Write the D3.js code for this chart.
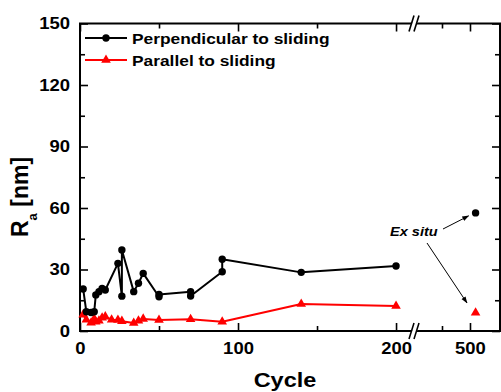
<!DOCTYPE html>
<html><head><meta charset="utf-8">
<script src="https://cdn.jsdelivr.net/npm/d3@7"></script>
<style>
html,body{margin:0;padding:0;background:#fff;}
svg{display:block;}
text{font-family:"Liberation Sans",Arial,sans-serif;font-weight:bold;fill:#000;}
.wide-c{transform-box:fill-box;transform-origin:center;transform:scaleX(1.12);}
.wide-r{transform-box:fill-box;transform-origin:right center;transform:scaleX(1.12);}
.wide-l{transform-box:fill-box;transform-origin:left center;transform:scaleX(1.12);}
</style></head><body>
<svg id="chart" width="501" height="392"></svg>
<script>
// Roughness Ra (nm) versus sliding cycle
const perpCycles = [2, 4, 7, 9, 10, 12, 14, 16, 24, 26.5, 26.5, 34, 37, 40, 50, 50, 70, 70, 90, 90, 140, 200];
const perpRa     = [20.5, 9.4, 9, 9.4, 17.6, 19.2, 20.8, 20, 33, 17, 39.5, 19.2, 23.3, 28.1, 16.7, 17.8, 19.2, 17.1, 28.9, 35, 28.6, 31.7];
const paraCycles = [2, 4, 7, 9, 10, 12, 14, 16, 20, 24, 26.5, 34, 37, 40, 50, 70, 90, 140, 200];
const paraRa     = [8, 5.5, 4, 6, 4.5, 5, 6.5, 7, 5.5, 5.4, 4.8, 3.9, 5, 5.9, 5.4, 5.7, 4.5, 13.2, 12.2];
const exSituCycle = 510;
const exSituPerp = 57.6;
const exSituPara = 8.9;

const seriesNames = ["Perpendicular to sliding", "Parallel to sliding"];
const seriesColors = ["#000000", "#ff0000"];

const yMajor = [0, 30, 60, 90, 120, 150];
const yMinor = [15, 45, 75, 105, 135];
const xMajorLow = [0, 100, 200];
const xMinorLow = [50, 150];
const xMajorHigh = [500];
const xMinorHigh = [450];

const svg = d3.select("#chart");
const L = 80, R = 500, T = 23.5, B = 331, BRK = 415.5;

// broken x axis: two linear pieces
const xLow = d3.scaleLinear().domain([0, 212]).range([L, 415]);
const xHigh = d3.scaleLinear().domain([400, 553.6]).range([414, R]);
const y = d3.scaleLinear().domain([0, 150]).range([B, T]);

function styleAxis(g) {
  g.select(".domain").remove();
  g.selectAll(".tick line").attr("stroke", "#000").attr("stroke-width", 1.6);
}

// Bottom axis
const bottomAxis = svg.append("g").attr("transform", `translate(0,${B})`);
[[xLow, xMajorLow, xMinorLow], [xHigh, xMajorHigh, xMinorHigh]].forEach(([sc, maj, mnr]) => {
  bottomAxis.append("g").call(d3.axisBottom(sc).tickValues(maj).tickSizeInner(-8).tickSizeOuter(0).tickPadding(11).tickFormat(d3.format("d")))
    .call(styleAxis)
    .call(g => g.selectAll("text").attr("font-size", 16.5).attr("class", "wide-c"));
  bottomAxis.append("g").call(d3.axisBottom(sc).tickValues(mnr).tickSizeInner(-5).tickSizeOuter(0).tickFormat(""))
    .call(styleAxis);
});
// Top axis (ticks only)
const topAxis = svg.append("g").attr("transform", `translate(0,${T})`);
[[xLow, xMajorLow, xMinorLow], [xHigh, xMajorHigh, xMinorHigh]].forEach(([sc, maj, mnr]) => {
  topAxis.append("g").call(d3.axisTop(sc).tickValues(maj).tickSizeInner(-8).tickSizeOuter(0).tickFormat(""))
    .call(styleAxis);
  topAxis.append("g").call(d3.axisTop(sc).tickValues(mnr).tickSizeInner(-5).tickSizeOuter(0).tickFormat(""))
    .call(styleAxis);
});
// Left axis
svg.append("g").attr("transform", `translate(${L},0)`)
  .call(d3.axisLeft(y).tickValues(yMajor).tickSizeInner(-8).tickSizeOuter(0).tickPadding(10).tickFormat(d3.format("d")))
  .call(styleAxis)
  .call(g => g.selectAll("text").attr("font-size", 16.5).attr("class", "wide-r"));
svg.append("g").attr("transform", `translate(${L},0)`)
  .call(d3.axisLeft(y).tickValues(yMinor).tickSizeInner(-5).tickSizeOuter(0).tickFormat(""))
  .call(styleAxis);
// Right axis
svg.append("g").attr("transform", `translate(${R},0)`)
  .call(d3.axisRight(y).tickValues(yMajor).tickSizeInner(-8).tickSizeOuter(0).tickFormat(""))
  .call(styleAxis);
svg.append("g").attr("transform", `translate(${R},0)`)
  .call(d3.axisRight(y).tickValues(yMinor).tickSizeInner(-5).tickSizeOuter(0).tickFormat(""))
  .call(styleAxis);

// Frame
svg.append("rect").attr("x", L).attr("y", T).attr("width", R - L).attr("height", B - T)
  .attr("fill", "none").attr("stroke", "#000").attr("stroke-width", 2);

// Axis break marks
[T, B].forEach(yy => {
  svg.append("path")
    .attr("d", `M${BRK - 6},${yy + 8} L${BRK - 1},${yy - 8} L${BRK + 4},${yy - 8} L${BRK - 1},${yy + 8} Z`)
    .attr("fill", "#fff").attr("stroke", "none");
  [-4, 1].forEach(dx => {
    svg.append("line")
      .attr("x1", BRK + dx - 2.5).attr("y1", yy + 8)
      .attr("x2", BRK + dx + 2.5).attr("y2", yy - 8)
      .attr("stroke", "#000").attr("stroke-width", 1.6);
  });
});

// Series lines and markers
const line = d3.line().x(d => xLow(d[0])).y(d => y(d[1]));
const perp = perpCycles.map((c, i) => [c, perpRa[i]]);
const para = paraCycles.map((c, i) => [c, paraRa[i]]);
const tri = d3.symbol().type(d3.symbolTriangle).size(40);

svg.append("path").datum(para).attr("d", line).attr("fill", "none")
  .attr("stroke", seriesColors[1]).attr("stroke-width", 2).attr("stroke-linejoin", "round");
svg.selectAll(".para").data(para).join("path").attr("class", "para")
  .attr("d", tri).attr("transform", d => `translate(${xLow(d[0])},${y(d[1])})`).attr("fill", seriesColors[1]);

svg.append("path").datum(perp).attr("d", line).attr("fill", "none")
  .attr("stroke", seriesColors[0]).attr("stroke-width", 2).attr("stroke-linejoin", "round");
svg.selectAll(".perp").data(perp).join("circle").attr("class", "perp")
  .attr("cx", d => xLow(d[0])).attr("cy", d => y(d[1])).attr("r", 3.7).attr("fill", seriesColors[0]);

// Ex situ points
svg.append("circle").attr("cx", xHigh(exSituCycle)).attr("cy", y(exSituPerp)).attr("r", 3.7).attr("fill", seriesColors[0]);
svg.append("path").attr("d", tri).attr("transform", `translate(${xHigh(exSituCycle)},${y(exSituPara)})`).attr("fill", seriesColors[1]);

// Ex situ annotation with arrows
const defs = svg.append("defs");
defs.append("marker").attr("id", "arrow").attr("viewBox", "0 0 10 10").attr("refX", 9).attr("refY", 5)
  .attr("markerWidth", 7).attr("markerHeight", 7).attr("orient", "auto-start-reverse")
  .append("path").attr("d", "M0,1.5 L10,5 L0,8.5 Z").attr("fill", "#000");
svg.append("text").attr("x", 390).attr("y", 236).attr("font-size", 13).attr("font-style", "italic")
  .attr("class", "wide-l").text("Ex situ");
svg.append("line").attr("x1", 443).attr("y1", 229).attr("x2", xHigh(exSituCycle) - 7).attr("y2", y(exSituPerp) + 3)
  .attr("stroke", "#000").attr("stroke-width", 1).attr("marker-end", "url(#arrow)");
svg.append("line").attr("x1", 427).attr("y1", 243).attr("x2", 467).attr("y2", 303)
  .attr("stroke", "#000").attr("stroke-width", 1).attr("marker-end", "url(#arrow)");

// Legend
const legend = svg.append("g");
[0, 1].forEach(i => {
  const ly = 38 + i * 22;
  legend.append("line").attr("x1", 85).attr("x2", 127).attr("y1", ly).attr("y2", ly)
    .attr("stroke", seriesColors[i]).attr("stroke-width", 2);
  if (i === 0) legend.append("circle").attr("cx", 106).attr("cy", ly).attr("r", 3.7).attr("fill", seriesColors[i]);
  else legend.append("path").attr("d", tri).attr("transform", `translate(106,${ly})`).attr("fill", seriesColors[i]);
  legend.append("text").attr("x", 132).attr("y", ly).attr("dy", "0.36em").attr("font-size", 15.5)
    .attr("class", "wide-l").text(seriesNames[i]);
});

// Axis titles
svg.append("text").attr("x", 285).attr("y", 387).attr("text-anchor", "middle").attr("font-size", 21)
  .attr("class", "wide-c").text("Cycle");
const yt = svg.append("text").attr("transform", "translate(28,237) rotate(-90)").attr("font-size", 23);
yt.append("tspan").text("R");
yt.append("tspan").attr("font-size", 13).attr("dy", 9).text("a");
yt.append("tspan").attr("dy", -9).text(" [nm]");
</script>
</body></html>
